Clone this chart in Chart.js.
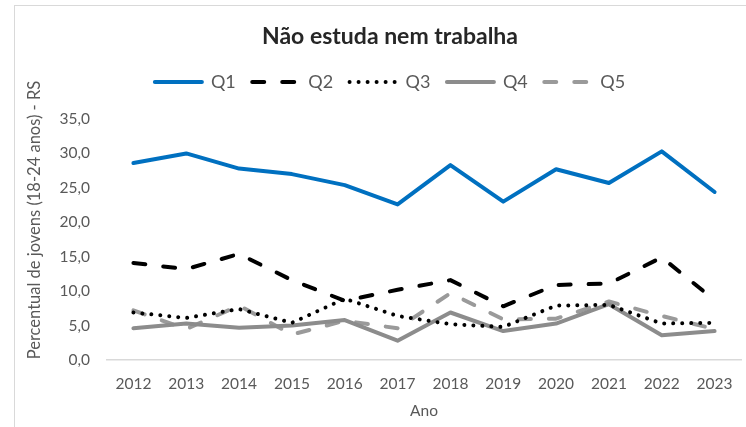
<!DOCTYPE html>
<html lang="pt">
<head>
<meta charset="utf-8">
<title>Não estuda nem trabalha</title>
<script src="https://cdn.jsdelivr.net/npm/chart.js@4/dist/chart.umd.min.js"></script>
<style>
  html, body { margin: 0; padding: 0; overflow: hidden; background: #ffffff; }
  #wrap { position: relative; width: 780px; height: 427px; }
</style>
</head>
<body>
<div id="wrap"><canvas id="chart"></canvas></div>
<script>
const years = ["2012", "2013", "2014", "2015", "2016", "2017", "2018", "2019", "2020", "2021", "2022", "2023"];
const q1 = [28.6, 30.0, 27.8, 27.0, 25.4, 22.6, 28.3, 23.0, 27.7, 25.7, 30.3, 24.4];
const q2 = [14.1, 13.2, 15.4, 11.6, 8.6, 10.2, 11.6, 7.8, 10.9, 11.1, 14.9, 8.7];
const q3 = [6.9, 6.1, 7.4, 5.4, 8.9, 6.4, 5.2, 4.8, 7.9, 8.0, 5.3, 5.4];
const q4 = [4.6, 5.3, 4.7, 5.0, 5.8, 2.8, 6.9, 4.2, 5.3, 8.1, 3.6, 4.2];
const q5 = [7.2, 4.5, 7.9, 3.7, 5.7, 4.6, 9.7, 5.9, 6.0, 8.5, 6.4, 4.5];
const yMin = 0;
const yMax = 35;
const yStep = 5;

const chartTitle = "Não estuda nem trabalha";
const yTitle = "Percentual de jovens (18-24 anos) - RS";
const xTitle = "Ano";

const FONT = "Lato";
const TEXT = "#595959";

function formatTick(value) {
  return Number(value).toFixed(1).replace(".", ",");
}

function lineSeries(label, data, color, dash) {
  return {
    label,
    data,
    borderColor: color,
    backgroundColor: color,
    borderWidth: 4,
    borderDash: dash,
    borderCapStyle: "round",
    borderJoinStyle: "round",
    pointRadius: 0,
    pointHoverRadius: 0,
    tension: 0,
    fill: false
  };
}

// legend samples should carry the dash pattern of each line
function legendLabels(chart) {
  const items = Chart.defaults.plugins.legend.labels.generateLabels(chart);
  items.forEach((item) => {
    const ds = chart.data.datasets[item.datasetIndex];
    item.lineDash = ds.borderDash;
    item.lineCap = "round";
    item.lineWidth = ds.borderWidth;
    item.strokeStyle = ds.borderColor;
    item.fillStyle = ds.borderColor;
  });
  return items;
}

// frame of the original chart, cropped on the right and bottom
const framePlugin = {
  id: "frame",
  beforeDraw(chart) {
    const ctx = chart.ctx;
    ctx.save();
    ctx.fillStyle = "#ffffff";
    ctx.fillRect(0, 0, chart.width, chart.height);
    ctx.strokeStyle = "#d9d9d9";
    ctx.lineWidth = 1;
    ctx.strokeRect(14.5, 5.5, chart.width - 29, chart.height + 20);
    ctx.restore();
  }
};

// y axis title sits a bit above the plot centre, as in the source
const yTitlePlugin = {
  id: "yTitle",
  afterDraw(chart) {
    const ctx = chart.ctx;
    ctx.save();
    ctx.translate(35, 220);
    ctx.rotate(-Math.PI / 2);
    ctx.font = "16.5px " + FONT;
    ctx.fillStyle = TEXT;
    ctx.textAlign = "center";
    ctx.textBaseline = "middle";
    ctx.fillText(yTitle, 0, 0);
    ctx.restore();
  }
};

// extra room between legend and plot
const legendGapPlugin = {
  id: "legendGap",
  beforeLayout(chart) {
    const legend = chart.legend;
    if (legend && !legend._gapPatched) {
      const fit = legend.fit;
      legend.fit = function () {
        fit.call(this);
        this.height += 18;
      };
      legend._gapPatched = true;
    }
  }
};

new Chart(document.getElementById("chart"), {
  type: "line",
  data: {
    labels: years,
    datasets: [
      lineSeries("Q1", q1, "#0070c0", []),
      lineSeries("Q2", q2, "#000000", [12, 18]),
      lineSeries("Q3", q3, "#000000", [0.01, 9]),
      lineSeries("Q4", q4, "#8c8c8c", []),
      lineSeries("Q5", q5, "#9a9a9a", [12, 18])
    ]
  },
  options: {
    responsive: true,
    maintainAspectRatio: false,
    animation: false,
    events: [],
    layout: { padding: { top: 10, left: 39, right: 39, bottom: 4.7 } },
    plugins: {
      title: {
        display: true,
        text: chartTitle,
        color: "#262626",
        font: { family: FONT, size: 23, weight: "bold" },
        padding: { top: 13.2, bottom: 5.7 }
      },
      legend: {
        display: true,
        position: "top",
        labels: {
          usePointStyle: true,
          pointStyle: "line",
          pointStyleWidth: 47,
          padding: 16.5,
          color: TEXT,
          font: { family: FONT, size: 18 },
          generateLabels: legendLabels
        }
      },
      tooltip: { enabled: false }
    },
    scales: {
      x: {
        offset: true,
        grid: { display: false, drawTicks: false },
        border: { display: true, color: "#d9d9d9", width: 1.5 },
        ticks: { color: TEXT, padding: 14.7, font: { family: FONT, size: 15.5 }, maxRotation: 0 },
        title: { display: true, text: xTitle, color: TEXT, font: { family: FONT, size: 15.5 }, padding: { top: 2, bottom: 2 } },
        afterFit(scale) { scale.height = 62.3; }
      },
      y: {
        min: yMin,
        max: yMax,
        grid: { display: false, drawTicks: false },
        border: { display: false },
        ticks: { stepSize: yStep, color: TEXT, padding: 17, font: { family: FONT, size: 15.5 }, callback: formatTick },
        afterFit(scale) { scale.width = 68; }
      }
    }
  },
  plugins: [framePlugin, yTitlePlugin, legendGapPlugin]
});
</script>
</body>
</html>
